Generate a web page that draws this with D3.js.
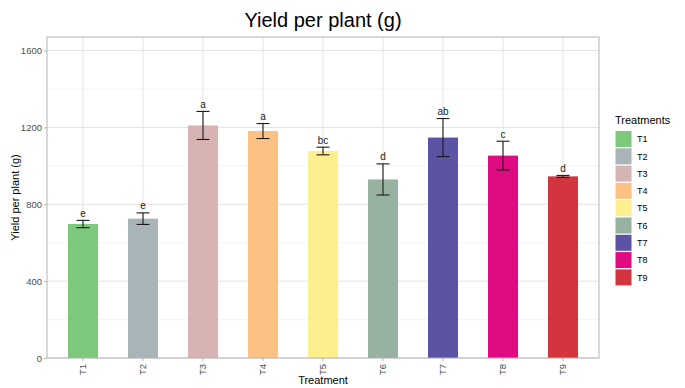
<!DOCTYPE html>
<html>
<head>
<meta charset="utf-8">
<script src="https://cdn.jsdelivr.net/npm/d3@7"></script>
<style>
  html, body { margin: 0; padding: 0; background: #fff; }
  svg { display: block; font-family: "Liberation Sans", Arial, Helvetica, sans-serif; }
</style>
</head>
<body>
<svg id="chart" width="685" height="388"></svg>
<script>
// Treatment means, standard errors and significance letters
const treatments = ["T1", "T2", "T3", "T4", "T5", "T6", "T7", "T8", "T9"];
const yieldMean = [697, 725, 1210, 1181, 1077, 929, 1147, 1053, 945];
const yieldSE = [19, 30, 73, 39, 20, 81, 99, 75, 5];
const groupLetters = ["e", "e", "a", "a", "bc", "d", "ab", "c", "d"];
const barColors = ["#7ec87c", "#a8b4b8", "#d7b3b3", "#fdc283", "#fdee90", "#97b2a0", "#5b53a3", "#de0b82", "#d2353e"];
const yTicks = [0, 400, 800, 1200, 1600];
const yMinor = [200, 600, 1000, 1400];

const svg = d3.select("#chart");
const panel = { left: 47, right: 599, top: 37, bottom: 358 };

const x = d3.scaleBand()
  .domain(treatments)
  .range([panel.left, panel.right])
  .paddingOuter(0.1)
  .paddingInner(0);
const y = d3.scaleLinear()
  .domain([0, 1600])
  .range([panel.bottom, 50.5]);
const color = d3.scaleOrdinal().domain(treatments).range(barColors);

const barW = x.bandwidth() * 0.5;
const cx = t => x(t) + x.bandwidth() / 2;

const data = treatments.map((t, i) => ({
  t, mean: yieldMean[i], se: yieldSE[i], letter: groupLetters[i]
}));

// Grid
const grid = svg.append("g");
grid.selectAll(".minor").data(yMinor).enter().append("line")
  .attr("x1", panel.left).attr("x2", panel.right)
  .attr("y1", d => y(d)).attr("y2", d => y(d))
  .attr("stroke", "#ededed").attr("stroke-width", 0.6);
grid.selectAll(".major").data(yTicks).enter().append("line")
  .attr("x1", panel.left).attr("x2", panel.right)
  .attr("y1", d => y(d)).attr("y2", d => y(d))
  .attr("stroke", "#e3e3e3").attr("stroke-width", 1);
grid.selectAll(".vmajor").data(treatments).enter().append("line")
  .attr("x1", d => cx(d)).attr("x2", d => cx(d))
  .attr("y1", panel.top).attr("y2", panel.bottom)
  .attr("stroke", "#e3e3e3").attr("stroke-width", 1);

// Bars
svg.append("g").selectAll("rect").data(data).enter().append("rect")
  .attr("x", d => cx(d.t) - barW / 2)
  .attr("width", barW)
  .attr("y", d => y(d.mean))
  .attr("height", d => y(0) - y(d.mean))
  .attr("fill", d => color(d.t));

// Error bars
const capW = 13;
const eb = svg.append("g").attr("stroke", "#1a1a1a").attr("stroke-width", 1.1);
data.forEach(d => {
  const top = y(d.mean + d.se), bot = y(d.mean - d.se), c = cx(d.t);
  eb.append("line").attr("x1", c).attr("x2", c).attr("y1", top).attr("y2", bot);
  eb.append("line").attr("x1", c - capW / 2).attr("x2", c + capW / 2).attr("y1", top).attr("y2", top);
  eb.append("line").attr("x1", c - capW / 2).attr("x2", c + capW / 2).attr("y1", bot).attr("y2", bot);
});

// Significance letters
svg.append("g").selectAll("text").data(data).enter().append("text")
  .attr("x", d => cx(d.t))
  .attr("y", d => y(d.mean + d.se) - 3.5)
  .attr("text-anchor", "middle")
  .attr("font-size", 10)
  .attr("fill", "#222")
  .text(d => d.letter);

// Panel border
svg.append("rect")
  .attr("x", panel.left).attr("y", panel.top)
  .attr("width", panel.right - panel.left).attr("height", panel.bottom - panel.top)
  .attr("fill", "none").attr("stroke", "#b3b3b3").attr("stroke-width", 1);

// Y axis
const yAxis = svg.append("g")
  .attr("transform", `translate(${panel.left},0)`)
  .call(d3.axisLeft(y).tickValues(yTicks).tickSize(3).tickPadding(2).tickFormat(d3.format("d")));
yAxis.select(".domain").remove();
yAxis.selectAll("line").attr("stroke", "#b3b3b3");
yAxis.selectAll("text").attr("fill", "#4d4d4d").attr("font-size", 9.5)
  .attr("font-family", "Liberation Sans, Arial, sans-serif");

// X axis
const xAxis = svg.append("g")
  .attr("transform", `translate(0,${panel.bottom})`)
  .call(d3.axisBottom(x).tickSize(3).tickPadding(3));
xAxis.select(".domain").remove();
xAxis.selectAll("line").attr("stroke", "#b3b3b3");
xAxis.selectAll("text")
  .attr("fill", "#4d4d4d").attr("font-size", 9.5)
  .attr("font-family", "Liberation Sans, Arial, sans-serif")
  .attr("transform", "rotate(-90)")
  .attr("text-anchor", "end")
  .attr("x", -6).attr("y", 0).attr("dy", "0.35em");

// Titles
svg.append("text")
  .attr("x", (panel.left + panel.right) / 2).attr("y", 27)
  .attr("text-anchor", "middle").attr("font-size", 20).attr("fill", "#000")
  .text("Yield per plant (g)");
svg.append("text")
  .attr("x", (panel.left + panel.right) / 2).attr("y", 384)
  .attr("text-anchor", "middle").attr("font-size", 11).attr("fill", "#000")
  .text("Treatment");
svg.append("text")
  .attr("transform", `translate(19,${(panel.top + panel.bottom) / 2}) rotate(-90)`)
  .attr("text-anchor", "middle").attr("font-size", 11).attr("fill", "#000")
  .text("Yield per plant (g)");

// Legend
const legend = svg.append("g").attr("transform", "translate(615,0)");
legend.append("text").attr("x", 0).attr("y", 124)
  .attr("font-size", 11).attr("fill", "#000").text("Treatments");
const keyH = 17.3;
const items = legend.selectAll(".key").data(treatments).enter().append("g")
  .attr("transform", (d, i) => `translate(0,${130.5 + i * keyH})`);
items.append("rect")
  .attr("x", 0.5).attr("y", 0.5).attr("width", 16).attr("height", 16)
  .attr("fill", d => color(d));
items.append("text")
  .attr("x", 22).attr("y", keyH / 2).attr("dy", "0.35em")
  .attr("font-size", 9).attr("fill", "#000").text(d => d);
</script>
</body>
</html>
